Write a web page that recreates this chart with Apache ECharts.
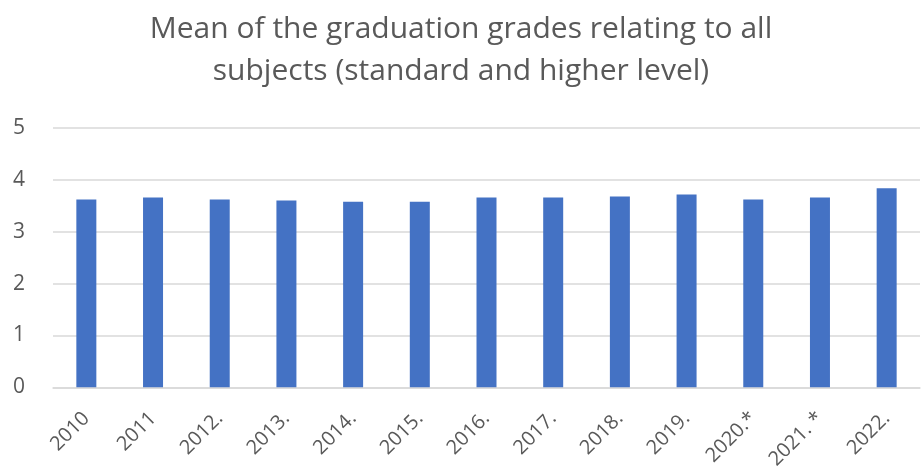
<!DOCTYPE html>
<html>
<head>
<meta charset="utf-8">
<script src="https://cdn.jsdelivr.net/npm/echarts@6/dist/echarts.min.js"></script>
<style>
  html, body { margin: 0; padding: 0; background: #fff; }
  #main { width: 922px; height: 472px; }
</style>
</head>
<body>
<div id="main"></div>
<script>
// years as written on the axis
var years = ['2010', '2011', '2012.', '2013.', '2014.', '2015.', '2016.',
             '2017.', '2018.', '2019.', '2020.*', '2021. *', '2022.'];
// mean grade per year
var means = [3.62, 3.66, 3.62, 3.60, 3.58, 3.58, 3.66,
             3.66, 3.68, 3.72, 3.62, 3.66, 3.84];
var yTicks = [0, 1, 2, 3, 4, 5];

var myChart = echarts.init(document.getElementById('main'));
var option = {
	title : {
		text : 'Mean of the graduation grades relating to all\nsubjects (standard and higher level)',
		left : 'center',
		top : 3,
		padding : [5, 0, 5, 26],
		textStyle : {
			fontFamily : 'Open Sans',
			fontWeight : 'normal',
			fontSize : 30,
			lineHeight : 42,
			color : '#595959'
		}
	},
	grid : {
		left : 53,
		right : 2,
		top : 128,
		bottom : 83
	},
	xAxis : {
		type : 'category',
		data : years,
		axisLine : { lineStyle : { color : '#d9d9d9', width : 1.5 } },
		axisTick : { show : false },
		axisLabel : {
			rotate : 45,
			interval : 0,
			margin : 28,
			fontFamily : 'Open Sans',
			fontSize : 20,
			color : '#595959'
		}
	},
	yAxis : {
		type : 'value',
		min : yTicks[0],
		max : yTicks[yTicks.length - 1],
		interval : 1,
		axisLine : { show : false },
		axisTick : { show : false },
		splitLine : { lineStyle : { color : '#d9d9d9', width : 1.5 } },
		axisLabel : {
			margin : 28,
			fontFamily : 'Open Sans',
			fontSize : 21,
			color : '#595959'
		}
	},
	series : [ {
		type : 'bar',
		data : means,
		barWidth : 20,
		itemStyle : { color : '#4472C4' }
	} ]
};
myChart.setOption(option);
</script>
</body>
</html>
